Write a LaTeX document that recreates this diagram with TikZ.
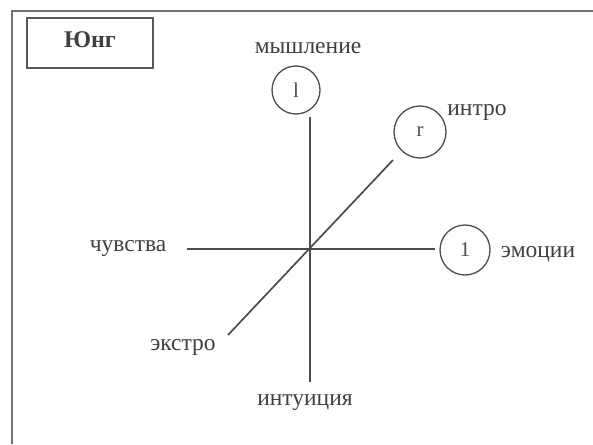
\documentclass[tikz,border=0pt]{standalone}
\usepackage{fontspec}
\setmainfont{Liberation Serif}
\begin{document}
\begin{tikzpicture}[x=1pt,y=-1pt,
  lbl/.style={text=black!75, font=\fontsize{23.5}{23.5}\selectfont, inner sep=0pt, anchor=base},
  ring/.style={draw=black!70, line width=1.3pt, circle, minimum size=48pt, inner sep=0pt, text=black!70, font=\fontsize{21}{21}\selectfont},
  axis/.style={draw=black!70, line width=1.7pt},
  frame/.style={draw=black!55, line width=1.4pt}]
\useasboundingbox (0,0) rectangle (593,444);
\coordinate (tl) at (12,11);
\coordinate (tr) at (593,11);
\coordinate (bl) at (12,444);
\draw[frame] (bl) -- (tl) -- (tr);
\node[draw=black!65, line width=1.6pt, minimum width=126pt, minimum height=50pt, inner sep=0pt] (jung) at (90,43) {};
\node[text=black!75, font=\bfseries\fontsize{24}{24}\selectfont, inner sep=0pt, anchor=base] (jungt) at (90,48) {Юнг};
\node[lbl] (think) at (308,53) {мышление};
\node[ring] (c1) at (296,90) {l};
\node[ring, minimum size=52pt] (c2) at (420,132) {r};
\node[lbl] (intro) at (477,115) {интро};
\node[ring, minimum size=50pt] (c3) at (465,250) {1};
\node[lbl] (emo) at (538,257) {эмоции};
\node[lbl] (feel) at (128,251) {чувства};
\node[lbl] (extro) at (183,350) {экстро};
\node[lbl] (intu) at (305,405) {интуиция};
\coordinate (o) at (310,249);
\coordinate (vtop) at (310,117);
\coordinate (vbot) at (310,382);
\coordinate (hl) at (187,249);
\coordinate (hr) at (435,249);
\coordinate (dl) at (228,335);
\coordinate (dr) at (393,160);
\draw[axis] (vtop) -- (vbot);
\draw[axis] (hl) -- (hr);
\draw[axis] (dl) -- (dr);
\end{tikzpicture}
\end{document}
